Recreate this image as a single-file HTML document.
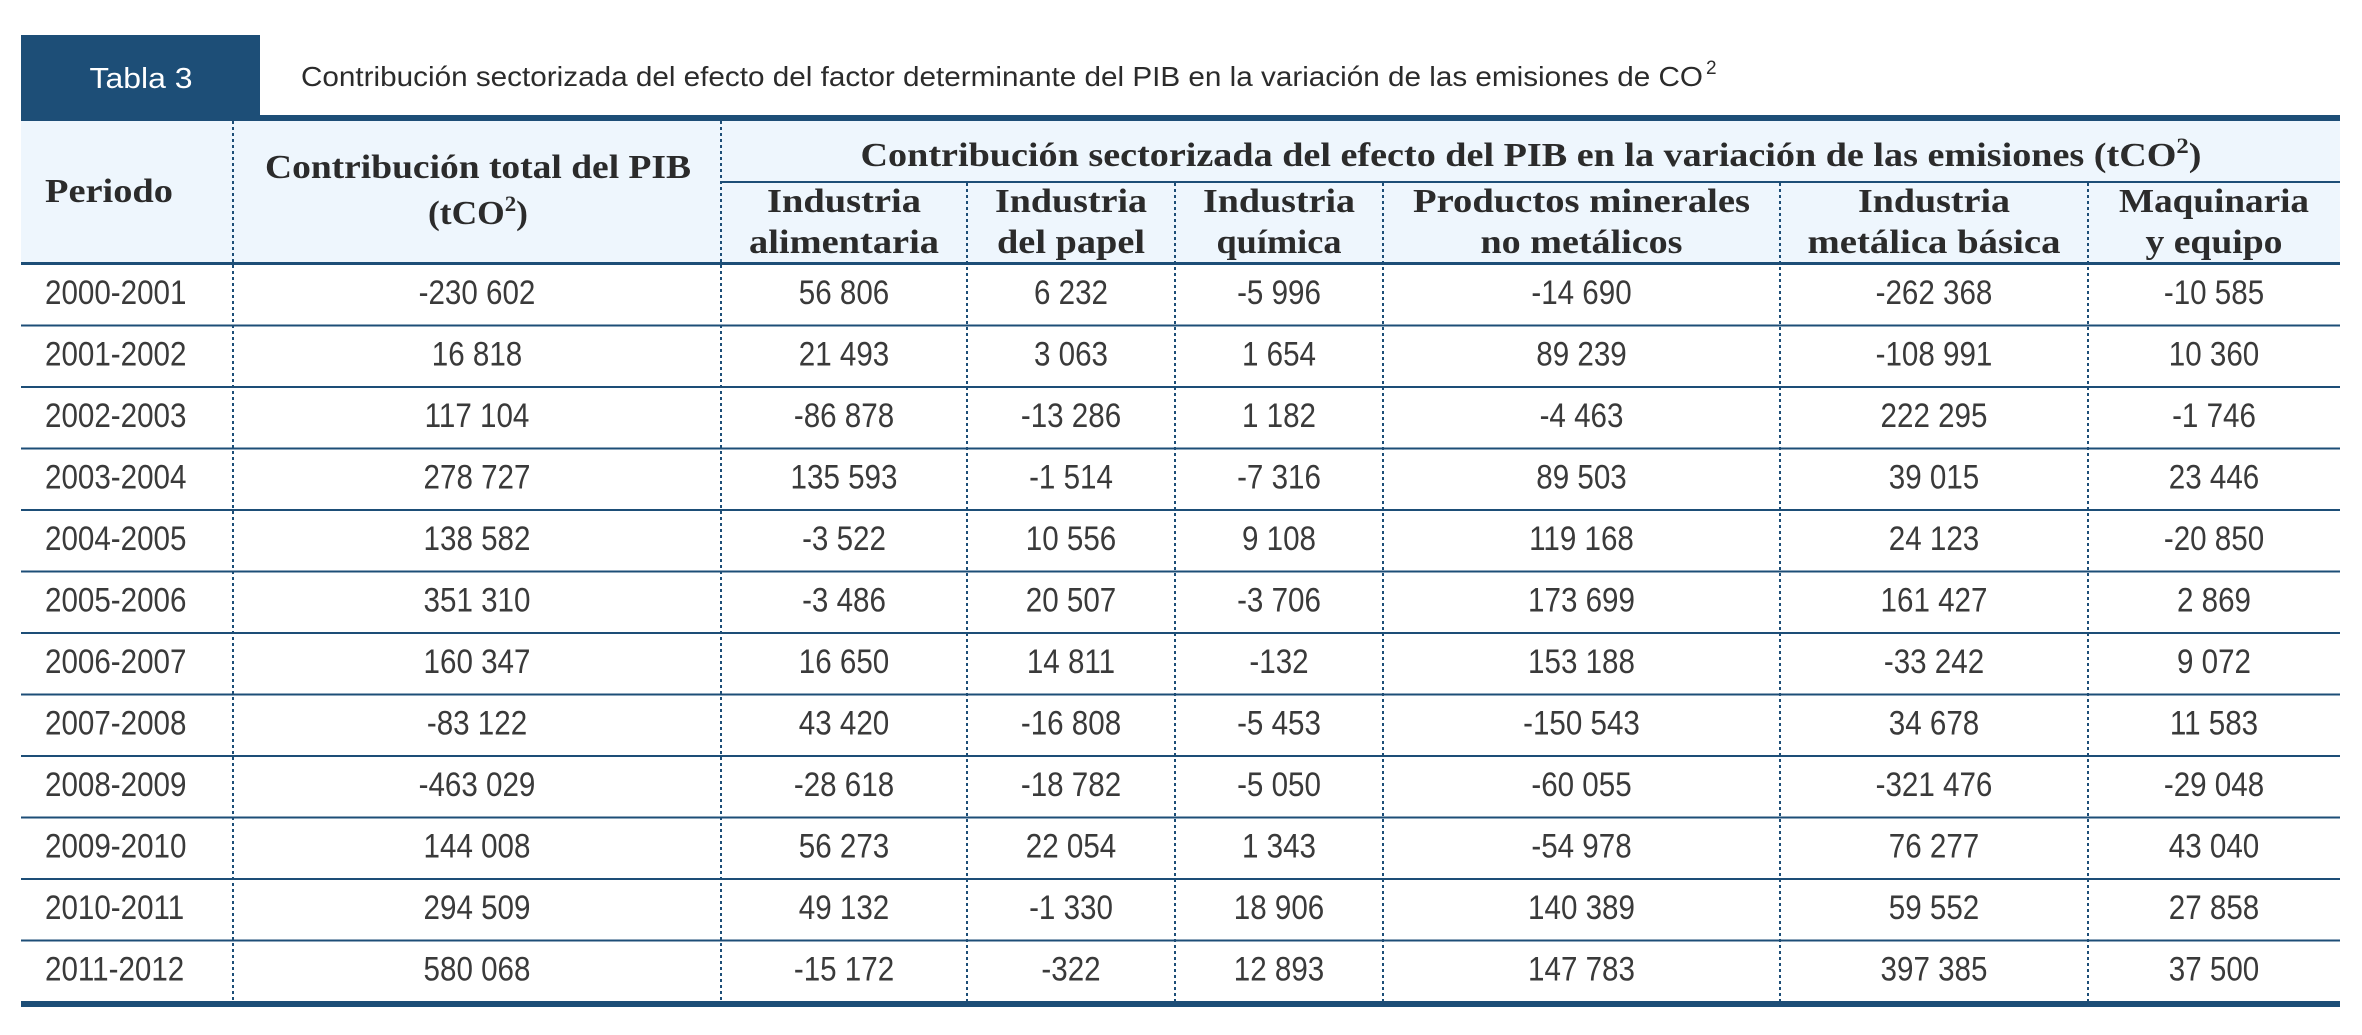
<!DOCTYPE html>
<html><head><meta charset="utf-8"><style>
html,body{margin:0;padding:0;background:#fff;}
svg{display:block;}
</style></head><body>
<svg id="tbl" width="2362" height="1035" viewBox="0 0 2362 1035" xmlns="http://www.w3.org/2000/svg">
  <rect x="21" y="35" width="239" height="84" fill="#1d4e77"/>
  <text x="141" y="88" fill="#fff" font-family="Liberation Sans, sans-serif" font-size="29" text-anchor="middle" textLength="103" lengthAdjust="spacingAndGlyphs">Tabla 3</text>
  <text x="301" y="86" fill="#2b2b2b" font-family="Liberation Sans, sans-serif" font-size="28" textLength="1402" lengthAdjust="spacingAndGlyphs">Contribución sectorizada del efecto del factor determinante del PIB en la variación de las emisiones de CO</text>
  <text x="1706" y="74" fill="#2b2b2b" font-family="Liberation Sans, sans-serif" font-size="19">2</text>
  <rect x="21" y="121" width="2319" height="142" fill="#eef6fd"/>
  <rect x="21" y="115" width="2319" height="6" fill="#1d4e77"/>
  <rect x="721" y="181" width="1619" height="2" fill="#1d4e77"/>
  <rect x="21" y="262" width="2319" height="3" fill="#1d4e77"/>
  <rect x="21" y="1001" width="2319" height="6" fill="#1d4e77"/>
  <g id="hdr" font-family="Liberation Serif, serif" font-weight="bold" font-size="34" fill="#2b2b2b" text-anchor="middle"></g>
  <g id="lines"></g>
  <g id="body" font-family="Liberation Sans, sans-serif" font-size="34" fill="#3a3a3a"></g>
</svg>
<script>
const periods = ["2000-2001","2001-2002","2002-2003","2003-2004","2004-2005","2005-2006","2006-2007","2007-2008","2008-2009","2009-2010","2010-2011","2011-2012"];
const totalPIB = ["-230 602","16 818","117 104","278 727","138 582","351 310","160 347","-83 122","-463 029","144 008","294 509","580 068"];
const alimentaria = ["56 806","21 493","-86 878","135 593","-3 522","-3 486","16 650","43 420","-28 618","56 273","49 132","-15 172"];
const papel = ["6 232","3 063","-13 286","-1 514","10 556","20 507","14 811","-16 808","-18 782","22 054","-1 330","-322"];
const quimica = ["-5 996","1 654","1 182","-7 316","9 108","-3 706","-132","-5 453","-5 050","1 343","18 906","12 893"];
const minerales = ["-14 690","89 239","-4 463","89 503","119 168","173 699","153 188","-150 543","-60 055","-54 978","140 389","147 783"];
const metalica = ["-262 368","-108 991","222 295","39 015","24 123","161 427","-33 242","34 678","-321 476","76 277","59 552","397 385"];
const maquinaria = ["-10 585","10 360","-1 746","23 446","-20 850","2 869","9 072","11 583","-29 048","43 040","27 858","37 500"];

const NS="http://www.w3.org/2000/svg";
const colX=[21,233,721,967,1175,1383,1780,2088,2340];
const top0=264, rowH=61.5;
function mk(tag,attrs,parent){const e=document.createElementNS(NS,tag);for(const k in attrs)e.setAttribute(k,attrs[k]);parent.appendChild(e);return e;}
const hdr=document.getElementById('hdr'), lines=document.getElementById('lines'), body=document.getElementById('body');
function ht(txt,cx,y,w,name,anchor){
  const t=mk('text',{x:cx,y:y,textLength:w,lengthAdjust:'spacingAndGlyphs'},hdr);
  if(anchor)t.setAttribute('text-anchor',anchor);
  const parts=txt.split('^2');
  if(parts.length>1){
    t.appendChild(document.createTextNode(parts[0]));
    const s=mk('tspan',{dy:-13,'font-size':22},t); s.textContent='2';
    const r=mk('tspan',{dy:13},t); r.textContent=parts[1];
  } else t.textContent=txt;
  
  
  return t;
}
ht("Periodo",45,202,128,"periodo-header","start");
ht("Contribución total del PIB",478,178,426,"total-pib-header");
ht("(tCO^2)",478,224,100,"total-pib-unit");
ht("Contribución sectorizada del efecto del PIB en la variación de las emisiones (tCO^2)",1531,166,1341,"sector-group-header");
const sub=[["Industria","alimentaria",154,190],["Industria","del papel",152,148],["Industria","química",152,125],["Productos minerales","no metálicos",337,202],["Industria","metálica básica",152,253],["Maquinaria","y equipo",190,137]];
sub.forEach((s,i)=>{
  const cx=(colX[i+2]+colX[i+3])/2;
  ht(s[0],cx,212,s[2],"sector-header-"+(i+1)+"-line1");
  ht(s[1],cx,253,s[3],"sector-header-"+(i+1)+"-line2");
});
for(let r=1;r<periods.length;r++){
  const y=top0+r*rowH;
  const l=mk('rect',{x:21,y:y-1,width:2319,height:2,fill:'#1d4e77'},lines);
  
  
}
for(let c=1;c<colX.length-1;c++){
  const y1=c<=2?121:183;
  const l=mk('line',{x1:colX[c],y1:y1,x2:colX[c],y2:1001,stroke:'#1d4e77','stroke-width':2,'stroke-dasharray':'3,3'},lines);
  
  
}
const cols=[totalPIB,alimentaria,papel,quimica,minerales,metalica,maquinaria];
const colNames=["total-pib","alimentaria","papel","quimica","minerales","metalica","maquinaria"];
function dt(txt,x,y,anchor,name){
  const g=mk('g',{transform:`translate(${x},${y}) scale(0.87,1)`},body);
  const t=mk('text',{x:0,y:0,'text-anchor':anchor},g);
  t.textContent=txt;
  
  
}
periods.forEach((p,r)=>{
  const y=top0+r*rowH+rowH/2+9;
  dt(p,45,y,'start','period-cell');
  cols.forEach((arr,c)=>{
    const cx=(colX[c+1]+colX[c+2])/2;
    dt(arr[r],cx,y,'middle',colNames[c]+'-cell');
  });
});
</script>
</body></html>
